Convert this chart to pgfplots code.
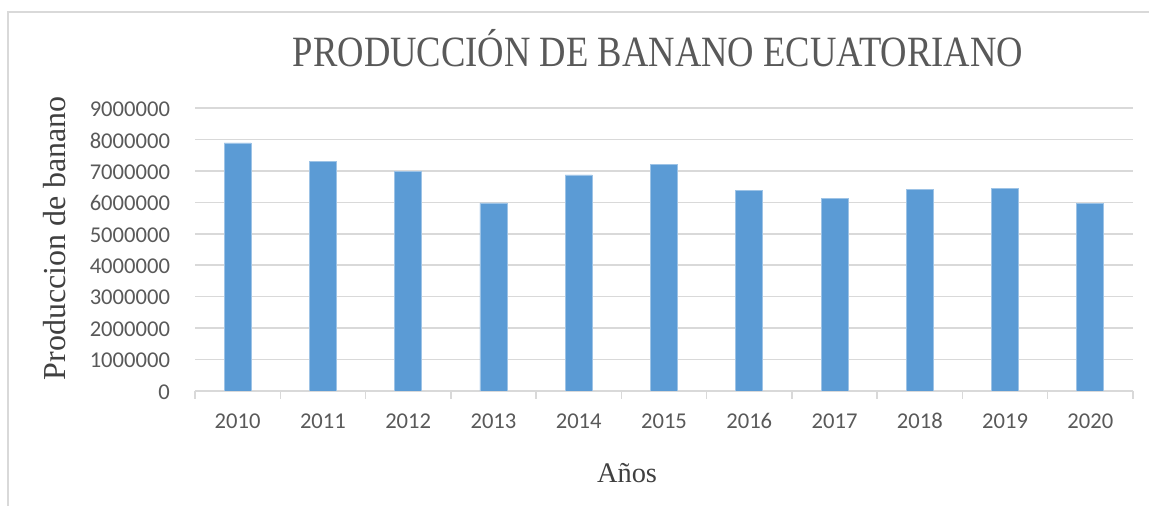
\documentclass[border=0pt]{standalone}
\usepackage{fontspec}
\setmainfont{Liberation Serif}
\newfontfamily\carlito{Carlito}
\usepackage{graphicx}
\usepackage{pgfplots}
\pgfplotsset{compat=1.18}
\definecolor{barblue}{HTML}{5B9BD5}
\definecolor{baredge}{HTML}{9DC3E6}
\definecolor{gridgray}{HTML}{D9D9D9}
\definecolor{txtgray}{HTML}{595959}
\definecolor{lblgray}{HTML}{404040}
\begin{document}
\begin{tikzpicture}
\path[use as bounding box] (0,0) rectangle (574.5pt,253pt);
\draw[gridgray, line width=1pt] (4pt,0) -- (4pt,247pt) -- (574.5pt,247pt);
\begin{axis}[
  at={(97.5pt,57.5pt)}, anchor=south west,
  scale only axis, width=469pt, height=141.5pt,
  xmin=-0.5, xmax=10.5, ymin=0, ymax=9000000,
  ybar, bar width=13.5pt,
  axis line style={draw=none},
  xtick={0,...,10},
  xticklabels={2010,2011,2012,2013,2014,2015,2016,2017,2018,2019,2020},
  minor xtick={-0.5,0.5,...,10.5},
  xtick pos=bottom, ytick pos=left,
  major tick length=0pt, minor tick length=4pt,
  tick align=outside,
  minor tick style={gridgray, line width=0.75pt},
  ytick={0,1000000,...,9000000},
  ymajorgrids, major grid style={gridgray, line width=0.75pt},
  scaled y ticks=false,
  /pgf/number format/.cd, fixed, 1000 sep={}, assume math mode=true,
  /pgfplots/.cd,
  ticklabel style={font=\carlito\fontsize{11.3}{13}\selectfont, text=txtgray},
  xticklabel style={anchor=base, yshift=-19pt},
  yticklabel style={xshift=-9pt, yshift=-0.5pt},
  title={\scalebox{1}[1.18]{\fontsize{18.3}{20}\selectfont PRODUCCIÓN DE BANANO ECUATORIANO}},
  title style={at={(rel axis cs:0.4936,1.17)}, anchor=center, text=txtgray},
  ylabel={\fontsize{16}{19}\selectfont Produccion de banano},
  ylabel style={at={(rel axis cs:-0.150,0.54)}, anchor=center, text=lblgray},
  xlabel={\fontsize{14.2}{17}\selectfont Años},
  xlabel style={at={(rel axis cs:0.4606,-0.29)}, anchor=center, text=lblgray},
]
\addplot[fill=barblue, draw=baredge, line width=0.4pt] coordinates {
  (0,7890000) (1,7310000) (2,6995000) (3,5980000) (4,6870000)
  (5,7200000) (6,6380000) (7,6125000) (8,6410000) (9,6450000) (10,5970000)
};
\end{axis}
\end{tikzpicture}
\end{document}
